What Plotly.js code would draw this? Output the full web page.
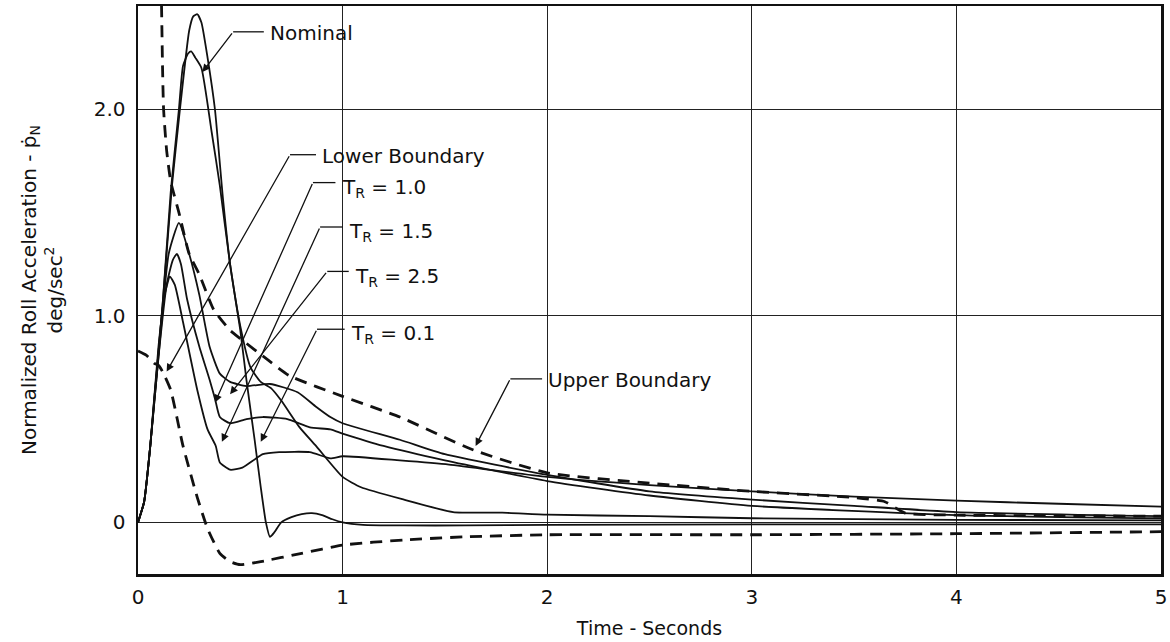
<!DOCTYPE html>
<html><head><meta charset="utf-8">
<script src="https://cdn.plot.ly/plotly-3.0.1.min.js"></script>
<style>html,body{margin:0;padding:0;background:#fff}#c{width:1170px;height:642px}</style>
</head><body><div id="c"></div>
<script>
// Series (time in seconds, normalized roll acceleration)
const tr01_t = [0,0.03,0.06,0.08,0.12,0.166,0.205,0.25,0.27,0.29,0.31,0.34,0.376,0.415,0.45,0.5,0.53,0.57,0.6,0.625,0.645,0.665,0.7,0.75,0.8,0.85,0.9,0.95,1.0,1.1,1.3,1.6,2,3,4,5];
const tr01_y = [0,0.1,0.37,0.6,1.05,1.63,2.0,2.38,2.45,2.46,2.42,2.25,2.0,1.57,1.25,0.93,0.69,0.4,0.17,0.0,-0.07,-0.05,0.0,0.025,0.04,0.045,0.035,0.015,0.0,-0.012,-0.015,-0.015,-0.012,-0.01,-0.01,-0.01];
const nom_t = [0,0.03,0.06,0.08,0.12,0.16,0.2,0.22,0.245,0.26,0.28,0.31,0.36,0.40,0.45,0.5,0.55,0.6,0.65,0.7,0.79,0.87,1.0,1.09,1.3,1.54,1.78,2.0,2.5,3,4,5];
const nom_y = [0,0.1,0.37,0.6,1.05,1.6,2.0,2.21,2.27,2.28,2.25,2.2,1.89,1.63,1.25,0.95,0.75,0.68,0.65,0.59,0.46,0.37,0.22,0.17,0.11,0.05,0.047,0.037,0.03,0.02,0.012,0.01];
const tr10_t = [0,0.03,0.06,0.1,0.14,0.17,0.19,0.21,0.24,0.3,0.35,0.376,0.4,0.45,0.53,0.61,0.73,0.84,0.94,1.0,1.2,1.5,2,2.5,3,4,5];
const tr10_y = [0,0.1,0.37,0.8,1.15,1.27,1.30,1.25,1.08,0.85,0.69,0.6,0.51,0.48,0.5,0.51,0.5,0.46,0.45,0.43,0.37,0.3,0.2,0.13,0.08,0.035,0.02];
const tr15_t = [0,0.03,0.06,0.1,0.15,0.2,0.25,0.3,0.35,0.4,0.45,0.53,0.645,0.78,0.87,0.94,1.0,1.28,1.5,2,2.5,3,3.5,4,5];
const tr15_y = [0,0.1,0.37,0.8,1.3,1.45,1.3,1.1,0.85,0.72,0.68,0.66,0.67,0.63,0.56,0.51,0.48,0.4,0.33,0.23,0.15,0.11,0.08,0.05,0.03];
const tr25_t = [0,0.03,0.06,0.1,0.13,0.156,0.18,0.22,0.29,0.34,0.38,0.40,0.45,0.51,0.61,0.69,0.84,0.94,1.0,1.28,1.52,2,2.5,3,3.5,4,4.5,5];
const tr25_y = [0,0.1,0.37,0.85,1.1,1.19,1.15,0.97,0.64,0.45,0.37,0.29,0.255,0.265,0.33,0.34,0.34,0.31,0.32,0.3,0.28,0.22,0.18,0.15,0.125,0.105,0.09,0.076];
const upper_t = [0.112,0.115,0.12,0.125,0.14,0.16,0.2,0.25,0.3,0.37,0.45,0.5,0.63,0.74,1.0,1.28,1.64,2.0,2.5,3.0,3.5,3.65,3.75,4,4.5,5];
const upper_y = [2.6,2.5,2.2,2.0,1.8,1.65,1.5,1.3,1.2,1.03,0.93,0.89,0.79,0.71,0.61,0.51,0.35,0.24,0.19,0.15,0.12,0.1,0.045,0.035,0.032,0.03];
const lower_t = [0,0.04,0.08,0.1,0.12,0.16,0.22,0.29,0.34,0.4,0.45,0.5,0.6,0.8,1.0,1.3,1.6,2,3,4,5];
const lower_y = [0.83,0.81,0.77,0.76,0.73,0.64,0.37,0.12,-0.03,-0.15,-0.19,-0.205,-0.19,-0.15,-0.11,-0.085,-0.07,-0.06,-0.06,-0.055,-0.045];

const xTicks = [0,1,2,3,4,5];
const yTicks = [0,1,2];
const yTickText = ['0','1.0','2.0'];

// label texts and their leader lines: text position, elbow, arrow tip
const labelText = ['Nominal','Lower Boundary','T<sub>R</sub> = 1.0','T<sub>R</sub> = 1.5','T<sub>R</sub> = 2.5','T<sub>R</sub> = 0.1','Upper Boundary'];
const labelX = [0.635, 0.89, 0.985, 1.02, 1.05, 1.03, 1.995];
const labelY = [2.37, 1.775, 1.62, 1.405, 1.19, 0.91, 0.69];
const elbowX = [0.465, 0.743, 0.855, 0.89, 0.925, 0.875, 1.82];
const elbowY = [2.375, 1.78, 1.645, 1.43, 1.215, 0.935, 0.695];
const tipX = [0.315, 0.14, 0.376, 0.41, 0.45, 0.6, 1.65];
const tipY = [2.18, 0.73, 0.58, 0.39, 0.62, 0.39, 0.37];

const F = 'DejaVu Sans, Liberation Sans, Arial, sans-serif';
const INK = '#111';
const solid = {color:INK, width:1.8, shape:'spline', smoothing:0.5};
const dash = {color:INK, width:2.8, dash:'12px,8px', shape:'spline', smoothing:0.5};

const traces = [
  {x:tr01_t, y:tr01_y, mode:'lines', line:solid, name:'T_R=0.1'},
  {x:nom_t, y:nom_y, mode:'lines', line:solid, name:'Nominal'},
  {x:tr10_t, y:tr10_y, mode:'lines', line:solid, name:'T_R=1.0'},
  {x:tr15_t, y:tr15_y, mode:'lines', line:solid, name:'T_R=1.5'},
  {x:tr25_t, y:tr25_y, mode:'lines', line:solid, name:'T_R=2.5'},
  {x:upper_t, y:upper_y, mode:'lines', line:dash, name:'Upper Boundary'},
  {x:lower_t, y:lower_y, mode:'lines', line:dash, name:'Lower Boundary'}
];

const annotations = [];
const shapes = [];
labelText.forEach((t, i) => {
  annotations.push({x:labelX[i], y:labelY[i], xref:'x', yref:'y', text:t, showarrow:false, xanchor:'left', yanchor:'middle', font:{family:F, size:20, color:INK}});
  annotations.push({x:tipX[i], y:tipY[i], xref:'x', yref:'y', ax:elbowX[i], ay:elbowY[i], axref:'x', ayref:'y', text:'', showarrow:true, arrowhead:2, arrowsize:1.2, arrowwidth:1.3, arrowcolor:INK});
  shapes.push({type:'line', xref:'x', yref:'y', x0:elbowX[i], y0:elbowY[i], x1:labelX[i]-0.02, y1:elbowY[i], line:{color:INK, width:1.3}});
});

const layout = {
  width:1170, height:642,
  margin:{l:138, r:9, t:6, b:68},
  paper_bgcolor:'#fff', plot_bgcolor:'#fff',
  showlegend:false,
  font:{family:F, size:20, color:INK},
  xaxis:{range:[0,5], tickvals:xTicks, ticktext:xTicks.map(String), showgrid:true, gridcolor:'#222', gridwidth:1,
    zeroline:false, showline:true, linecolor:INK, linewidth:2.5, mirror:true, ticks:'', ticklabelstandoff:3,
    tickfont:{family:F, size:20}, title:{text:'Time - Seconds', font:{family:F, size:19}, standoff:14}},
  yaxis:{range:[-0.25,2.5], tickvals:yTicks, ticktext:yTickText, showgrid:true, gridcolor:'#222', gridwidth:1,
    zeroline:false, showline:true, linecolor:INK, linewidth:2.5, mirror:true, ticks:'', ticklabelstandoff:6,
    tickfont:{family:F, size:20},
    title:{text:'Normalized Roll Acceleration - ṗ<sub>N</sub><br>deg/sec<sup>2</sup>', font:{family:F, size:20}, standoff:26}},
  annotations:annotations,
  shapes:shapes
};
Plotly.newPlot('c', traces, layout, {staticPlot:true});
</script></body></html>
